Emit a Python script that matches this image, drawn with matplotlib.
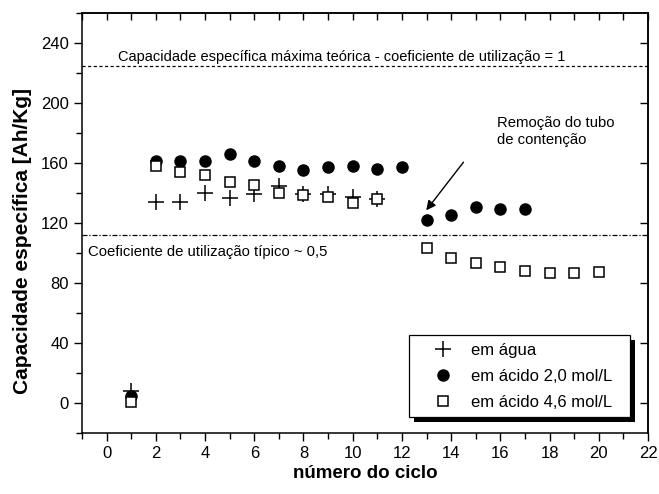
import matplotlib
matplotlib.use("Agg")
import matplotlib.pyplot as plt
from matplotlib.patches import Rectangle
from matplotlib.ticker import MultipleLocator, NullFormatter, NullLocator
from matplotlib.transforms import IdentityTransform

plt.rcParams['font.family'] = ['Liberation Sans', 'DejaVu Sans']

agua_x = [1, 2, 3, 4, 5, 6, 7, 8, 9, 10, 11]
agua_y = [8, 134, 134, 140, 136.5, 139, 144.5, 139, 139, 137, 136]
ac20_x = [1, 2, 3, 4, 5, 6, 7, 8, 9, 10, 11, 12, 13, 14, 15, 16, 17]
ac20_y = [5, 161, 161, 161, 166, 161, 158, 155, 157, 158, 156, 157, 122, 125.5, 130.5, 129, 129]
ac46_x = [1, 2, 3, 4, 5, 6, 7, 8, 9, 10, 11, 13, 14, 15, 16, 17, 18, 19, 20]
ac46_y = [1, 158, 154, 152, 147.5, 145.5, 140, 138.5, 137.5, 133.5, 136, 103.5, 96.5, 93.5, 90.5, 88, 87, 87, 87.5]

y_max_teorica = 224.5
y_tipico = 112
xticks = list(range(0, 23, 2))
yticks = list(range(0, 241, 40))

fig = plt.figure(figsize=(6.59, 4.94), dpi=100)
ax = fig.add_axes([82 / 659, 1 - 433 / 494, 566 / 659, 420 / 494])

ax.axhline(y_max_teorica, color='black', lw=0.9, ls=(0, (2.5, 2)))
ax.axhline(y_tipico, color='black', lw=0.9, ls=(0, (4, 1.5, 1, 1.5)))

ax.plot(agua_x, agua_y, ls='none', marker='+', ms=11, mew=1.1, color='black', label='em água')
ax.plot(ac20_x, ac20_y, ls='none', marker='o', ms=8, color='black', label='em ácido 2,0 mol/L')
ax.plot(ac46_x, ac46_y, ls='none', marker='s', ms=6.5, mfc='white', mec='black', mew=1.1,
        label='em ácido 4,6 mol/L')

ax.set_xlim(-1, 22)
ax.set_ylim(-20, 260)
ax.set_xticks(xticks)
ax.set_yticks(yticks)
ax.xaxis.set_minor_locator(MultipleLocator(1))
ax.yaxis.set_minor_locator(MultipleLocator(20))
ax.tick_params(which='both', direction='out', labelsize=12)
ax.tick_params(which='major', length=6, width=1)
ax.tick_params(which='minor', length=4, width=1)
for sp in ax.spines.values():
    sp.set_linewidth(1.1)

top = ax.secondary_xaxis('top')
top.set_xticks(xticks)
top.xaxis.set_minor_locator(MultipleLocator(1))
top.xaxis.set_major_formatter(NullFormatter())
top.tick_params(which='both', direction='in', length=5, width=1)
top.spines['top'].set_linewidth(1.1)

right = ax.secondary_yaxis('right')
right.set_yticks(yticks)
right.yaxis.set_minor_locator(NullLocator())
right.yaxis.set_major_formatter(NullFormatter())
right.tick_params(which='both', direction='in', length=6, width=1)
right.spines['right'].set_linewidth(1.1)

ax.set_xlabel('número do ciclo', fontsize=13.5, fontweight='bold')
ax.xaxis.label.set_va('center')
ax.xaxis.set_label_coords(0.5, -0.097)
ax.set_ylabel('Capacidade específica [Ah/Kg]', fontsize=15, fontweight='bold')
ax.yaxis.label.set_va('center')
ax.yaxis.set_label_coords(-0.106, 0.456)

ax.text(0.45, 231, 'Capacidade específica máxima teórica - coeficiente de utilização = 1', fontsize=10.5,
        va='center', ha='left')
ax.text(-0.77, 100.5, 'Coeficiente de utilização típico ~ 0,5', fontsize=10.7, va='center', ha='left')
ax.text(15.87, 181, 'Remoção do tubo\nde contenção', fontsize=10.7, va='center', ha='left', linespacing=1.3)
ax.annotate('', xy=(12.92, 127), xytext=(14.57, 162),
            arrowprops=dict(arrowstyle='-|>', color='black', lw=1, mutation_scale=14))

leg = ax.legend(loc='upper left', bbox_to_anchor=(0.578, 0.038, 0.390, 0.195), mode='expand',
                fancybox=False, edgecolor='black', framealpha=1, fontsize=12, borderaxespad=0,
                handlelength=3.2, handletextpad=0.05, labelspacing=0.66, borderpad=0.45)
leg.get_frame().set_linewidth(0.9)
leg.set_zorder(6)

fig.canvas.draw()
bb = leg.get_window_extent()
ax.add_patch(Rectangle((bb.x0 + 5, bb.y0 - 5), bb.width, bb.height, transform=IdentityTransform(),
                       facecolor='black', edgecolor='none', zorder=5, clip_on=False))

fig.savefig('out.png', dpi=100)
